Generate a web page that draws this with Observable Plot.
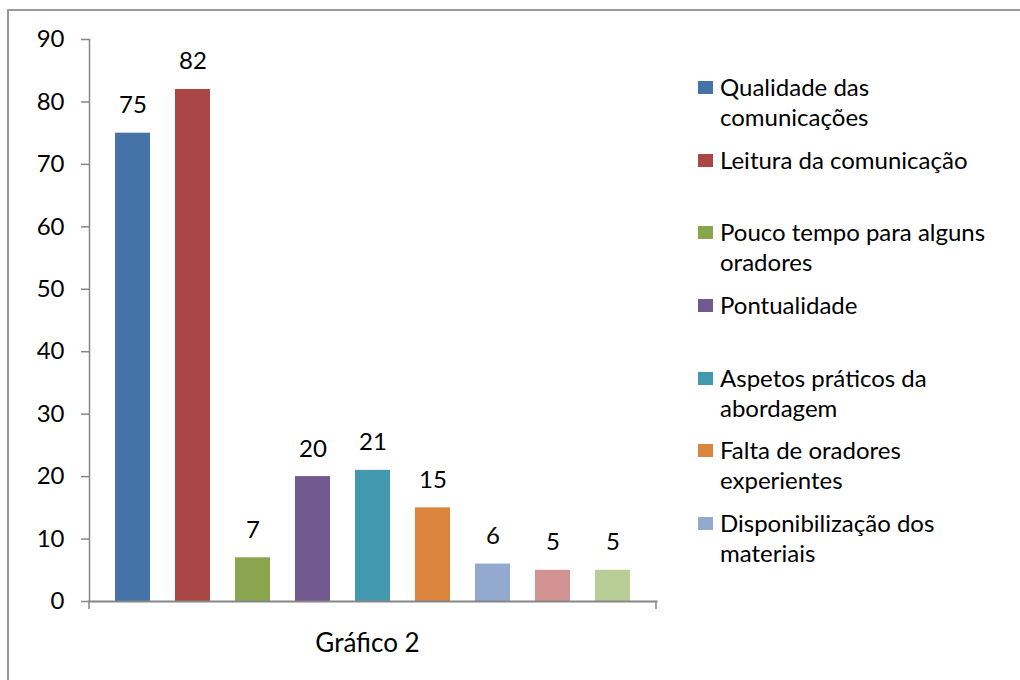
<!DOCTYPE html>
<html>
<head>
<meta charset="utf-8">
<script src="https://cdn.jsdelivr.net/npm/d3@7"></script>
<script src="https://cdn.jsdelivr.net/npm/@observablehq/plot@0.6"></script>
<style>
  html, body { margin: 0; padding: 0; background: #fff; }
  #wrap { position: relative; width: 1020px; height: 680px; overflow: hidden; font-family: Lato, "Noto Sans", sans-serif; }
  #border { position: absolute; left: 7px; top: 9px; width: 1100px; height: 800px; border-left: 2px solid #9a9a9a; border-top: 2px solid #9a9a9a; }
  #chart { position: absolute; left: 0; top: 0; }
  .leg { position: absolute; left: 698px; display: flex; align-items: flex-start; }
  .leg .sw { width: 15px; height: 13px; margin-top: 9px; flex: none; }
  .leg .lb { margin-left: 7px; font-size: 24px; line-height: 30px; white-space: pre; color: #000; }
  #cap { position: absolute; left: 79px; width: 577px; top: 626px; text-align: center; font-size: 26px; color: #000; }
</style>
</head>
<body>
<div id="wrap">
  <div id="border"></div>
  <div id="chart"></div>
  <div id="legend"></div>
  <div id="cap"></div>
</div>
<script>
const series = [
  "Qualidade das\ncomunicações",
  "Leitura da comunicação",
  "Pouco tempo para alguns\noradores",
  "Pontualidade",
  "Aspetos práticos da\nabordagem",
  "Falta de oradores\nexperientes",
  "Disponibilização dos\nmateriais",
  "Série 8",
  "Série 9"
];
const values = [75, 82, 7, 20, 21, 15, 6, 5, 5];
const colors = ["#4572A7", "#AA4643", "#89A54E", "#71588F", "#4198AF", "#DB843D", "#93A9CF", "#D19392", "#B9CD96"];
const legendShown = 7;
const yTicks = [0, 10, 20, 30, 40, 50, 60, 70, 80, 90];
const categoryLabel = "Gráfico 2";

const data = series.map((s, i) => ({ series: s, value: values[i] }));
const axisColor = "#868686";

const plot = Plot.plot({
  width: 1020,
  height: 680,
  marginLeft: 89,
  marginRight: 364,
  marginTop: 39,
  marginBottom: 79,
  style: { fontFamily: "Lato, 'Noto Sans', sans-serif", fontSize: "24px", color: "#000", background: "transparent" },
  x: { type: "band", domain: series, paddingInner: 0.4167, paddingOuter: 0.4333, axis: null },
  y: { domain: [0, 90] },
  color: { domain: series, range: colors },
  marks: [
    Plot.frame({ anchor: "left", stroke: axisColor, strokeWidth: 1.5 }),
    Plot.axisY({ ticks: yTicks, tickSize: 8, tickPadding: 17, stroke: axisColor, strokeWidth: 1.5, fill: "#000", label: null, fontSize: 24 }),
    Plot.barY(data, { x: "series", y: "value", fill: "series" }),
    Plot.frame({ anchor: "bottom", stroke: axisColor, strokeWidth: 2 }),
    Plot.text(data, { x: "series", y: "value", text: d => String(d.value), dy: -20, lineAnchor: "bottom", fill: "#000", fontSize: 24 })
  ]
});
document.getElementById("chart").appendChild(plot);

// end ticks on the category axis, at the ends of the x range
const xr = plot.scale("x").range;
const y0 = plot.scale("y").apply(0);
const svg = d3.select(plot);
xr.forEach(xx => {
  svg.append("line").attr("x1", xx).attr("x2", xx).attr("y1", y0).attr("y2", y0 + 8)
    .attr("stroke", axisColor).attr("stroke-width", 1.5);
});

// legend
const legend = document.getElementById("legend");
series.slice(0, legendShown).forEach((s, i) => {
  const item = document.createElement("div");
  item.className = "leg";
  item.style.top = (72 + i * 72.67) + "px";
  const sw = document.createElement("div");
  sw.className = "sw";
  sw.style.background = colors[i];
  const lb = document.createElement("div");
  lb.className = "lb";
  lb.textContent = s;
  item.appendChild(sw);
  item.appendChild(lb);
  legend.appendChild(item);
});

document.getElementById("cap").textContent = categoryLabel;
</script>
</body>
</html>
